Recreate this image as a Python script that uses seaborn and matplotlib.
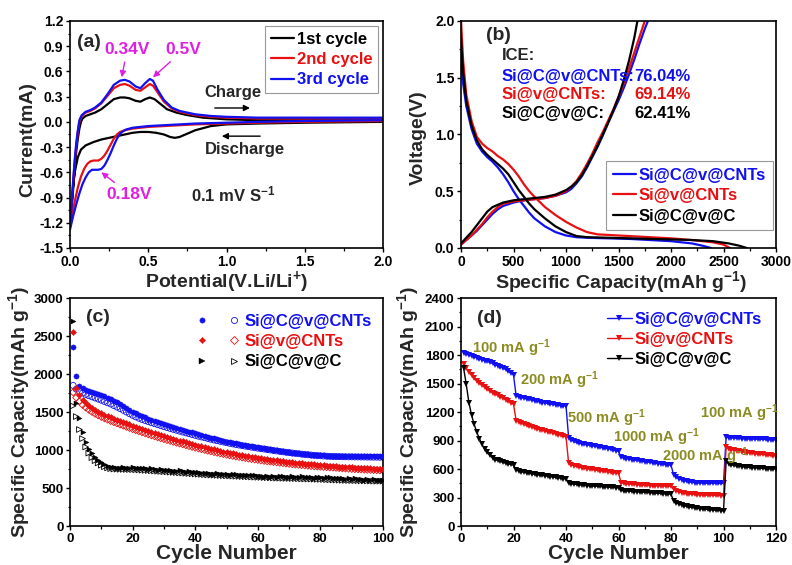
import numpy as np
import pandas as pd
import matplotlib
matplotlib.use("Agg")
import matplotlib.pyplot as plt
import seaborn as sns
from matplotlib.lines import Line2D
from matplotlib.legend_handler import HandlerTuple
from matplotlib.ticker import MultipleLocator

# ---------------- data: panel (a) CV curves ----------------
cv1_cath_v = [2.000, 1.500, 1.200, 1.000, 0.900, 0.800, 0.750, 0.700, 0.670, 0.640, 0.600, 0.550, 0.500,
              0.450, 0.400, 0.350, 0.300, 0.250, 0.200, 0.150, 0.100, 0.070, 0.050, 0.030, 0.015, 0.000]
cv1_cath_i = [0.00, -0.01, -0.02, -0.03, -0.05, -0.10, -0.14, -0.18, -0.19, -0.18, -0.15, -0.13, -0.12,
              -0.12, -0.13, -0.15, -0.17, -0.19, -0.21, -0.24, -0.28, -0.33, -0.42, -0.60, -0.85, -1.25]
cv1_an_v = [0.000, 0.010, 0.020, 0.030, 0.040, 0.050, 0.060, 0.070, 0.080, 0.100, 0.130, 0.160, 0.200, 0.240,
            0.280, 0.320, 0.350, 0.380, 0.420, 0.450, 0.480, 0.510, 0.540, 0.580, 0.620, 0.680, 0.750, 0.850,
            1.000, 1.200, 1.500, 2.000]
cv1_an_i = [-1.25, -1.05, -0.80, -0.55, -0.35, -0.20, -0.08, 0.00, 0.04, 0.07, 0.09, 0.11, 0.15, 0.21,
            0.27, 0.29, 0.29, 0.28, 0.25, 0.24, 0.27, 0.29, 0.27, 0.21, 0.15, 0.11, 0.08, 0.05,
            0.03, 0.02, 0.02, 0.02]

cv2_cath_v = [2.000, 1.500, 1.200, 1.000, 0.800, 0.600, 0.500, 0.400, 0.350, 0.320, 0.300, 0.280, 0.260,
              0.240, 0.220, 0.200, 0.180, 0.150, 0.130, 0.110, 0.090, 0.070, 0.050, 0.030, 0.015, 0.000]
cv2_cath_i = [0.01, 0.00, -0.01, -0.02, -0.03, -0.05, -0.06, -0.08, -0.10, -0.12, -0.15, -0.20, -0.27,
              -0.34, -0.40, -0.44, -0.46, -0.46, -0.47, -0.50, -0.56, -0.65, -0.78, -0.95, -1.10, -1.25]
cv2_an_v = [0.000, 0.010, 0.020, 0.030, 0.040, 0.050, 0.060, 0.075, 0.100, 0.130, 0.160, 0.200, 0.240, 0.280,
            0.320, 0.350, 0.380, 0.420, 0.450, 0.480, 0.510, 0.530, 0.560, 0.600, 0.650, 0.700, 0.800, 0.900,
            1.000, 1.200, 1.500, 2.000]
cv2_an_i = [-1.25, -1.00, -0.72, -0.48, -0.28, -0.12, 0.00, 0.07, 0.11, 0.13, 0.16, 0.22, 0.31, 0.40,
            0.44, 0.45, 0.43, 0.38, 0.37, 0.41, 0.45, 0.43, 0.35, 0.24, 0.16, 0.12, 0.08, 0.06,
            0.05, 0.04, 0.04, 0.04]

cv3_cath_v = [2.000, 1.500, 1.200, 1.000, 0.800, 0.600, 0.500, 0.400, 0.360, 0.340, 0.320, 0.300, 0.280,
              0.260, 0.240, 0.220, 0.200, 0.180, 0.160, 0.140, 0.120, 0.100, 0.080, 0.060, 0.040, 0.020, 0.000]
cv3_cath_i = [0.02, 0.01, 0.00, -0.01, -0.02, -0.04, -0.05, -0.07, -0.09, -0.11, -0.14, -0.20, -0.28,
              -0.37, -0.45, -0.52, -0.56, -0.57, -0.57, -0.57, -0.60, -0.66, -0.74, -0.85, -0.98, -1.12, -1.28]
cv3_an_v = [0.000, 0.010, 0.020, 0.030, 0.040, 0.050, 0.060, 0.075, 0.100, 0.130, 0.160, 0.200, 0.240, 0.280,
            0.320, 0.350, 0.380, 0.420, 0.450, 0.480, 0.510, 0.530, 0.560, 0.600, 0.650, 0.700, 0.800, 0.900,
            1.000, 1.200, 1.500, 2.000]
cv3_an_i = [-1.28, -1.00, -0.70, -0.45, -0.25, -0.10, 0.02, 0.08, 0.12, 0.14, 0.17, 0.23, 0.33, 0.44,
            0.49, 0.50, 0.48, 0.42, 0.40, 0.46, 0.51, 0.49, 0.38, 0.26, 0.17, 0.13, 0.09, 0.07,
            0.06, 0.05, 0.05, 0.05]
cv_labels = ["1st cycle", "2nd cycle", "3rd cycle"]

# ---------------- data: panel (b) voltage profiles ----------------
b_dis_cap_blue = [0, 20, 50, 100, 150, 200, 250, 300, 350, 400, 450, 500, 550, 600, 650, 700, 800, 900, 1000,
                  1100, 1200, 1400, 1600, 1800, 2000, 2200, 2300, 2380]
b_dis_v_blue = [1.65, 1.45, 1.25, 1.05, 0.92, 0.85, 0.80, 0.76, 0.71, 0.65, 0.58, 0.50, 0.43, 0.37, 0.31, 0.26,
                0.19, 0.14, 0.11, 0.095, 0.09, 0.085, 0.08, 0.07, 0.06, 0.04, 0.02, 0.00]
b_dis_cap_red = [0, 20, 50, 100, 150, 200, 250, 300, 350, 400, 450, 500, 550, 600, 650, 700, 800, 900, 1000,
                 1100, 1200, 1300, 1400, 1600, 1800, 2000, 2200, 2400, 2500, 2560]
b_dis_v_red = [2.0, 1.65, 1.35, 1.12, 0.98, 0.92, 0.88, 0.85, 0.81, 0.78, 0.74, 0.69, 0.63, 0.56, 0.50, 0.45,
               0.36, 0.29, 0.23, 0.18, 0.14, 0.12, 0.115, 0.105, 0.095, 0.085, 0.07, 0.05, 0.03, 0.00]
b_dis_cap_black = [0, 20, 50, 100, 150, 200, 250, 300, 350, 400, 450, 500, 550, 600, 650, 700, 800, 900, 1000,
                   1100, 1200, 1400, 1600, 1800, 2000, 2200, 2400, 2550, 2650, 2720]
b_dis_v_black = [1.85, 1.55, 1.30, 1.08, 0.95, 0.87, 0.82, 0.78, 0.74, 0.70, 0.65, 0.58, 0.51, 0.45, 0.39, 0.34,
                 0.26, 0.19, 0.14, 0.105, 0.095, 0.09, 0.085, 0.08, 0.075, 0.07, 0.06, 0.04, 0.02, 0.00]

b_ch_cap_blue = [0, 50, 100, 150, 200, 250, 300, 350, 400, 500, 600, 700, 800, 900, 1000, 1050, 1100, 1150,
                 1200, 1250, 1300, 1350, 1400, 1450, 1500, 1550, 1600, 1650, 1700, 1750, 1780]
b_ch_v_blue = [0.03, 0.07, 0.11, 0.15, 0.20, 0.25, 0.30, 0.34, 0.37, 0.40, 0.42, 0.43, 0.44, 0.46, 0.49, 0.52,
               0.57, 0.63, 0.71, 0.80, 0.89, 0.99, 1.10, 1.20, 1.30, 1.41, 1.53, 1.66, 1.80, 1.93, 2.00]
b_ch_cap_red = [0, 50, 100, 150, 200, 250, 300, 350, 400, 500, 600, 700, 800, 900, 1000, 1050, 1100, 1150,
                1200, 1250, 1300, 1350, 1400, 1450, 1500, 1550, 1600, 1650, 1700, 1750]
b_ch_v_red = [0.03, 0.07, 0.11, 0.16, 0.21, 0.27, 0.32, 0.36, 0.39, 0.41, 0.42, 0.43, 0.44, 0.46, 0.50, 0.54,
              0.59, 0.66, 0.74, 0.83, 0.93, 1.02, 1.12, 1.22, 1.33, 1.45, 1.58, 1.72, 1.86, 2.00]
b_ch_cap_black = [0, 50, 100, 150, 200, 250, 300, 350, 400, 500, 600, 700, 800, 900, 1000, 1050, 1100, 1150,
                  1200, 1250, 1300, 1350, 1400, 1450, 1500, 1550, 1600, 1650, 1680]
b_ch_v_black = [0.04, 0.09, 0.14, 0.20, 0.26, 0.32, 0.36, 0.38, 0.40, 0.42, 0.43, 0.44, 0.45, 0.47, 0.51, 0.54,
                0.58, 0.64, 0.72, 0.81, 0.90, 1.00, 1.10, 1.21, 1.33, 1.48, 1.65, 1.85, 2.00]
sample_labels = ["Si@C@v@CNTs", "Si@v@CNTs", "Si@C@v@C"]
ice_values = ["76.04%", "69.14%", "62.41%"]

# ---------------- data: panel (c) cycling ----------------
c_cycles = list(range(1, 101))
c_blue_dis = [2350, 1980, 1840, 1815, 1795, 1780, 1765, 1750, 1738, 1722,
              1705, 1690, 1672, 1650, 1628, 1605, 1580, 1556, 1530, 1505,
              1482, 1462, 1445, 1430, 1414, 1400, 1386, 1372, 1358, 1345,
              1332, 1318, 1305, 1292, 1280, 1268, 1255, 1243, 1232, 1220,
              1208, 1196, 1185, 1174, 1163, 1152, 1142, 1132, 1122, 1112,
              1103, 1095, 1087, 1080, 1072, 1065, 1058, 1051, 1044, 1037,
              1030, 1023, 1016, 1009, 1002, 996, 990, 984, 978, 972,
              966, 961, 956, 951, 946, 942, 938, 935, 932, 930,
              928, 927, 926, 925, 924, 923, 923, 922, 922, 921,
              921, 920, 920, 920, 919, 919, 919, 918, 918, 918]
c_blue_ch = [1850, 1800, 1770, 1750, 1732, 1715, 1700, 1685, 1670, 1655,
             1638, 1622, 1605, 1585, 1565, 1545, 1523, 1500, 1478, 1456,
             1436, 1418, 1402, 1388, 1374, 1360, 1347, 1334, 1321, 1308,
             1296, 1284, 1272, 1260, 1248, 1237, 1226, 1215, 1204, 1193,
             1182, 1172, 1162, 1152, 1142, 1132, 1123, 1114, 1105, 1096,
             1088, 1080, 1072, 1065, 1058, 1051, 1044, 1037, 1030, 1024,
             1018, 1012, 1006, 1000, 994, 988, 982, 976, 971, 966,
             961, 956, 951, 946, 942, 938, 934, 930, 927, 924,
             921, 919, 917, 915, 914, 913, 912, 911, 910, 910,
             909, 909, 908, 908, 907, 907, 906, 906, 905, 905]
c_red_dis = [2550, 1810, 1720, 1660, 1620, 1585, 1555, 1528, 1505, 1485,
             1466, 1448, 1430, 1414, 1398, 1382, 1367, 1352, 1336, 1320,
             1305, 1290, 1276, 1262, 1248, 1235, 1222, 1209, 1196, 1184,
             1172, 1160, 1148, 1136, 1124, 1113, 1102, 1091, 1080, 1069,
             1058, 1048, 1038, 1028, 1018, 1008, 998, 989, 980, 971,
             963, 955, 947, 940, 933, 926, 919, 912, 905, 898,
             892, 886, 880, 874, 868, 863, 858, 853, 848, 843,
             838, 834, 830, 826, 822, 818, 814, 810, 806, 802,
             798, 795, 792, 789, 786, 783, 780, 777, 774, 771,
             768, 766, 764, 762, 760, 758, 756, 754, 752, 750]
c_red_ch = [1760, 1690, 1640, 1595, 1560, 1530, 1502, 1478, 1456, 1436,
            1418, 1400, 1383, 1367, 1351, 1336, 1321, 1306, 1291, 1276,
            1262, 1248, 1234, 1220, 1207, 1194, 1181, 1168, 1156, 1144,
            1132, 1120, 1108, 1097, 1086, 1075, 1064, 1053, 1042, 1032,
            1022, 1012, 1002, 992, 983, 974, 965, 956, 947, 939,
            931, 923, 916, 909, 902, 895, 888, 882, 876, 870,
            864, 858, 853, 848, 843, 838, 833, 828, 823, 818,
            814, 810, 806, 802, 798, 794, 790, 787, 784, 781,
            778, 775, 772, 769, 766, 763, 760, 757, 754, 751,
            749, 747, 745, 743, 741, 739, 737, 735, 733, 731]
c_black_dis = [2700, 1620, 1420, 1240, 1110, 1020, 960, 910, 870, 840,
               815, 795, 782, 775, 770, 768, 772, 765, 770, 775,
               768, 762, 770, 760, 752, 758, 748, 742, 750, 738,
               735, 740, 728, 725, 732, 720, 715, 722, 710, 705,
               712, 700, 695, 702, 690, 685, 692, 680, 688, 682,
               675, 684, 678, 670, 676, 668, 674, 665, 672, 660,
               655, 650, 662, 648, 656, 645, 652, 658, 646, 650,
               655, 640, 648, 652, 642, 646, 650, 638, 644, 648,
               636, 640, 645, 632, 638, 628, 634, 625, 630, 620,
               626, 615, 622, 612, 618, 608, 614, 605, 610, 606]
c_black_ch = [1580, 1440, 1270, 1150, 1040, 960, 900, 860, 830, 800,
              780, 765, 755, 750, 748, 746, 745, 744, 743, 742,
              740, 738, 735, 732, 730, 727, 724, 721, 718, 715,
              712, 709, 706, 703, 700, 697, 694, 691, 688, 685,
              682, 679, 676, 673, 671, 669, 667, 665, 663, 661,
              659, 657, 655, 653, 651, 649, 647, 645, 643, 641,
              640, 638, 636, 634, 632, 630, 629, 628, 627, 626,
              625, 624, 622, 620, 619, 618, 617, 616, 615, 614,
              612, 610, 608, 606, 605, 604, 602, 600, 599, 598,
              597, 596, 595, 594, 593, 592, 591, 590, 590, 590]

# ---------------- data: panel (d) rate capability ----------------
d_cycles = list(range(1, 121))
d_blue = [1820, 1810, 1800, 1790, 1782, 1772, 1762, 1752, 1742, 1732, 1722, 1712, 1700, 1688, 1676, 1662, 1648, 1630, 1610, 1590,
          1370, 1360, 1352, 1345, 1338, 1332, 1325, 1318, 1312, 1306, 1300, 1295, 1290, 1285, 1280, 1276, 1272, 1268, 1265, 1262,
          930, 905, 890, 880, 872, 866, 860, 855, 850, 845, 840, 835, 830, 825, 820, 815, 808, 800, 792, 785,
          722, 715, 710, 705, 700, 695, 690, 686, 682, 678, 674, 670, 666, 662, 658, 654, 650, 647, 644, 640,
          540, 515, 500, 488, 478, 470, 465, 460, 457, 455, 453, 452, 451, 450, 450, 449, 449, 448, 448, 448,
          935, 930, 928, 926, 924, 922, 920, 919, 918, 917, 916, 915, 914, 913, 912, 911, 910, 909, 908, 907]
d_red = [1710, 1660, 1620, 1585, 1555, 1528, 1502, 1480, 1460, 1440, 1422, 1405, 1390, 1375, 1360, 1345, 1330, 1315, 1300, 1280,
         1110, 1095, 1082, 1070, 1060, 1050, 1040, 1032, 1024, 1016, 1008, 1000, 992, 985, 978, 970, 963, 956, 948, 940,
         660, 645, 635, 628, 622, 616, 610, 605, 600, 595, 590, 586, 582, 578, 574, 570, 566, 562, 558, 554,
         455, 450, 446, 443, 440, 438, 436, 434, 432, 430, 428, 426, 425, 424, 423, 422, 421, 420, 419, 418,
         385, 370, 360, 352, 346, 341, 337, 334, 332, 330, 328, 327, 326, 325, 324, 323, 322, 322, 321, 320,
         830, 815, 805, 798, 792, 786, 781, 777, 773, 769, 765, 762, 759, 756, 753, 750, 747, 744, 741, 738]
d_black = [1660, 1490, 1300, 1170, 1070, 990, 920, 860, 810, 775, 745, 720, 700, 690, 680, 670, 662, 655, 648, 640,
           590, 580, 572, 566, 560, 555, 550, 545, 541, 537, 533, 529, 525, 521, 517, 513, 509, 505, 500, 495,
           450, 445, 441, 438, 435, 432, 429, 426, 424, 422, 420, 418, 416, 414, 412, 410, 408, 406, 404, 402,
           375, 372, 369, 367, 365, 363, 361, 359, 357, 355, 353, 351, 349, 347, 345, 343, 341, 339, 337, 335,
           265, 245, 232, 222, 214, 207, 201, 196, 191, 187, 183, 180, 177, 174, 171, 169, 167, 165, 163, 160,
           680, 655, 645, 638, 632, 628, 625, 622, 619, 617, 615, 613, 611, 609, 607, 605, 604, 603, 602, 600]
rate_labels = ["100 mA g$^{-1}$", "200 mA g$^{-1}$", "500 mA g$^{-1}$", "1000 mA g$^{-1}$",
               "2000 mA g$^{-1}$", "100 mA g$^{-1}$"]

# ---------------- style ----------------
sns.set_style("ticks")
plt.rcParams["font.family"] = ["Liberation Sans", "DejaVu Sans"]
plt.rcParams.update({
    "font.weight": "bold",
    "axes.labelweight": "bold",
    "mathtext.fontset": "custom",
    "mathtext.rm": "Liberation Sans:bold",
    "mathtext.it": "Liberation Sans:bold",
    "mathtext.bf": "Liberation Sans:bold",
    "mathtext.sf": "Liberation Sans:bold",
    "mathtext.default": "rm",
    "axes.unicode_minus": False,
    "xtick.direction": "out",
    "ytick.direction": "out",
    "xtick.major.size": 3.2, "ytick.major.size": 3.2,
    "xtick.minor.size": 1.8, "ytick.minor.size": 1.8,
    "xtick.major.width": 1.0, "ytick.major.width": 1.0,
    "xtick.minor.width": 0.9, "ytick.minor.width": 0.9,
    "axes.linewidth": 1.2,
    "axes.edgecolor": "black",
    "xtick.color": "black", "ytick.color": "black",
    "xtick.major.pad": 1.5, "ytick.major.pad": 1.5,
})

BLUE = "#1010F0"
RED = "#E81010"
BLACK = "#000000"
MAG = "#E020E0"
OLIVE = "#8B8B22"
cols = [BLACK, RED, BLUE]
scol = [BLUE, RED, BLACK]

fig = plt.figure(figsize=(7.92, 5.65), dpi=100)
axa = fig.add_axes([0.0884, 0.5611, 0.3952, 0.4018])
axb = fig.add_axes([0.5821, 0.5611, 0.3977, 0.4018])
axc = fig.add_axes([0.0884, 0.0690, 0.3952, 0.4035])
axd = fig.add_axes([0.5821, 0.0690, 0.3977, 0.4035])

LABFS = 14


def style_axes(ax, xmaj, xmin, ymaj, ymin, fs):
    ax.xaxis.set_major_locator(MultipleLocator(xmaj))
    ax.xaxis.set_minor_locator(MultipleLocator(xmin))
    ax.yaxis.set_major_locator(MultipleLocator(ymaj))
    ax.yaxis.set_minor_locator(MultipleLocator(ymin))
    ax.tick_params(which="both", top=False, right=False, labelsize=fs)
    for lab in ax.get_xticklabels() + ax.get_yticklabels():
        lab.set_fontweight("bold")
    for s in ax.spines.values():
        s.set_visible(True)
        s.set_linewidth(1.2)


def color_legend(leg, colors):
    for t, c in zip(leg.get_texts(), colors):
        t.set_color(c)
        t.set_fontweight("bold")


# ---------------- panel (a) ----------------
cv_sets = [(cv1_cath_v + cv1_an_v, cv1_cath_i + cv1_an_i),
           (cv2_cath_v + cv2_an_v, cv2_cath_i + cv2_an_i),
           (cv3_cath_v + cv3_an_v, cv3_cath_i + cv3_an_i)]
for (vv, ii), c, lab in zip(cv_sets, cols, cv_labels):
    sns.lineplot(x=vv, y=ii, ax=axa, sort=False, estimator=None, color=c, lw=1.6, label=lab)
axa.set_xlim(0, 2.0)
axa.set_ylim(-1.5, 1.2)
style_axes(axa, 0.5, 0.25, 0.3, 0.15, 10)
yt = np.round(np.arange(-1.5, 1.21, 0.3), 2)
axa.set_xticks([0.0, 0.5, 1.0, 1.5, 2.0])
axa.set_xticklabels(["0.0", "0.5", "1.0", "1.5", "2.0"])
axa.set_yticks(yt)
axa.set_yticklabels([f"{v:.1f}" for v in yt])
for lab in axa.get_xticklabels() + axa.get_yticklabels():
    lab.set_fontweight("bold")
axa.set_xlabel("Potential(V.Li/Li$^{+}$)", fontsize=LABFS, fontweight="bold")
axa.set_ylabel("Current(mA)", fontsize=LABFS, fontweight="bold")
axa.xaxis.set_label_coords(0.5, -0.092)
axa.yaxis.set_label_coords(-0.108, 0.48)
leg = axa.legend(loc="upper right", bbox_to_anchor=(0.985, 0.978), borderaxespad=0, fontsize=12,
                 handlelength=1.4, handletextpad=0.15, labelspacing=0.32, borderpad=0.35,
                 frameon=True, fancybox=False, edgecolor="#999999", framealpha=1)
leg.get_frame().set_linewidth(0.8)
color_legend(leg, cols)
axa.text(0.022, 0.905, "(a)", transform=axa.transAxes, fontsize=14, fontweight="bold", va="center")
arrm = dict(arrowstyle="-|>", color=MAG, lw=1.0, mutation_scale=9, shrinkA=1, shrinkB=0)
axa.annotate("0.34V", xy=(0.33, 0.53), xytext=(0.365, 0.855), color=MAG, fontsize=12.5, fontweight="bold",
             ha="center", va="center", arrowprops=arrm)
axa.annotate("0.5V", xy=(0.53, 0.53), xytext=(0.725, 0.855), color=MAG, fontsize=12.5, fontweight="bold",
             ha="center", va="center", arrowprops=arrm)
axa.annotate("0.18V", xy=(0.20, -0.60), xytext=(0.38, -0.86), color=MAG, fontsize=12.5, fontweight="bold",
             ha="center", va="center", arrowprops=arrm)
arrk = dict(arrowstyle="-|>", color="black", lw=1.0, mutation_scale=9, shrinkA=0, shrinkB=0)
axa.text(1.04, 0.35, "Charge", fontsize=12, fontweight="bold", ha="center", va="center")
axa.annotate("", xy=(1.15, 0.165), xytext=(0.925, 0.165), arrowprops=arrk)
axa.text(1.12, -0.33, "Discharge", fontsize=12, fontweight="bold", ha="center", va="center")
axa.annotate("", xy=(0.97, -0.17), xytext=(1.215, -0.17), arrowprops=arrk)
axa.text(1.04, -0.86, "0.1 mV S$^{-1}$", fontsize=12, fontweight="bold", ha="center", va="center")

# ---------------- panel (b) ----------------
dis_sets = [(b_dis_cap_blue, b_dis_v_blue), (b_dis_cap_red, b_dis_v_red), (b_dis_cap_black, b_dis_v_black)]
ch_sets = [(b_ch_cap_blue, b_ch_v_blue), (b_ch_cap_red, b_ch_v_red), (b_ch_cap_black, b_ch_v_black)]
for (xd, yd), (xc, yc), c, lab in zip(dis_sets, ch_sets, scol, sample_labels):
    sns.lineplot(x=xd, y=yd, ax=axb, sort=False, estimator=None, color=c, lw=1.6, label=lab)
    sns.lineplot(x=xc, y=yc, ax=axb, sort=False, estimator=None, color=c, lw=1.6)
axb.set_xlim(0, 3000)
axb.set_ylim(0, 2.0)
style_axes(axb, 500, 250, 0.5, 0.25, 10)
axb.set_yticks([0.0, 0.5, 1.0, 1.5, 2.0])
axb.set_yticklabels(["0.0", "0.5", "1.0", "1.5", "2.0"])
for lab in axb.get_xticklabels() + axb.get_yticklabels():
    lab.set_fontweight("bold")
axb.set_xlabel("Specific Capacity(mAh g$^{-1}$)", fontsize=LABFS, fontweight="bold")
axb.set_ylabel("Voltage(V)", fontsize=LABFS, fontweight="bold")
axb.xaxis.set_label_coords(0.51, -0.092)
axb.yaxis.set_label_coords(-0.108, 0.485)
h, l = axb.get_legend_handles_labels()
leg = axb.legend(h[:3], l[:3], loc="lower right", bbox_to_anchor=(0.99, 0.078), borderaxespad=0, fontsize=12,
                 handlelength=1.4, handletextpad=0.15, labelspacing=0.32, borderpad=0.4,
                 frameon=True, fancybox=False, edgecolor="#999999", framealpha=1)
leg.get_frame().set_linewidth(0.8)
color_legend(leg, scol)
axb.text(0.078, 0.935, "(b)", transform=axb.transAxes, fontsize=14, fontweight="bold", va="center")
axb.text(390, 1.70, "ICE:", fontsize=12, fontweight="bold", va="center", ha="left")
for k, (lab, val, c) in enumerate(zip(sample_labels, ice_values, scol)):
    yy = 1.515 - k * 0.165
    axb.text(390, yy, lab + ":", fontsize=12, fontweight="bold", va="center", ha="left", color=c)
    axb.text(2185, yy, val, fontsize=12, fontweight="bold", va="center", ha="right", color=c)

# ---------------- panel (c) ----------------
c_series = [(c_blue_dis, c_blue_ch, BLUE, "o", 14),
            (c_red_dis, c_red_ch, RED, "D", 10),
            (c_black_dis, c_black_ch, BLACK, ">", 13)]
handles = []
for dis, ch, c, m, s in c_series:
    sns.scatterplot(x=c_cycles, y=ch, ax=axc, marker=m, s=s * 1.3, facecolors="none", edgecolor=c,
                    linewidth=0.6, zorder=2)
    sns.scatterplot(x=c_cycles, y=dis, ax=axc, marker=m, s=s, color=c, edgecolor=c, linewidth=0.3, zorder=3)
    hf = Line2D([], [], ls="none", marker=m, color=c, markersize=3.8 if m != "D" else 3.2, markeredgewidth=0.3)
    ho = Line2D([], [], ls="none", marker=m, color=c, markerfacecolor="none",
                markersize=4.4 if m != "D" else 3.8, markeredgewidth=0.6)
    handles.append((hf, ho))
axc.set_xlim(0, 100)
axc.set_ylim(0, 3000)
style_axes(axc, 20, 10, 500, 250, 9.5)
axc.set_xlabel("Cycle Number", fontsize=15, fontweight="bold")
axc.set_ylabel("Specific Capacity(mAh g$^{-1}$)", fontsize=LABFS, fontweight="bold")
axc.xaxis.set_label_coords(0.5, -0.08)
axc.yaxis.set_label_coords(-0.122, 0.5)
leg = axc.legend(handles, sample_labels, handler_map={tuple: HandlerTuple(ndivide=None, pad=1.2)},
                 loc="upper right", bbox_to_anchor=(0.985, 0.96), borderaxespad=0, fontsize=12,
                 handlelength=2.6, handletextpad=0.3, labelspacing=0.32, frameon=False)
color_legend(leg, scol)
axc.text(0.05, 0.915, "(c)", transform=axc.transAxes, fontsize=14, fontweight="bold", va="center")

# ---------------- panel (d) ----------------
for y, c, lab in zip([d_blue, d_red, d_black], scol, sample_labels):
    sns.lineplot(x=d_cycles, y=y, ax=axd, color=c, lw=1.0, marker="v", markersize=4.3,
                 markeredgewidth=0, label=lab, estimator=None)
axd.set_xlim(0, 120)
axd.set_ylim(0, 2400)
style_axes(axd, 20, 10, 300, 150, 9.5)
axd.set_xlabel("Cycle Number", fontsize=15, fontweight="bold")
axd.set_ylabel("Specific Capacity(mAh g$^{-1}$)", fontsize=LABFS, fontweight="bold")
axd.xaxis.set_label_coords(0.5, -0.08)
axd.yaxis.set_label_coords(-0.128, 0.5)
leg = axd.legend(loc="upper right", bbox_to_anchor=(0.975, 0.97), borderaxespad=0, fontsize=12,
                 handlelength=1.5, handletextpad=0.15, labelspacing=0.32, frameon=False)
color_legend(leg, scol)
axd.text(0.05, 0.91, "(d)", transform=axd.transAxes, fontsize=14, fontweight="bold", va="center")
rate_pos = [(4, 1870), (22.5, 1540), (40.4, 1140), (58, 940), (76.5, 740), (91, 1190)]
for (xx, yy), lab in zip(rate_pos, rate_labels):
    axd.text(xx, yy, lab, color=OLIVE, fontsize=10.5, fontweight="bold", ha="left", va="center")

fig.savefig("out.png", dpi=100)
